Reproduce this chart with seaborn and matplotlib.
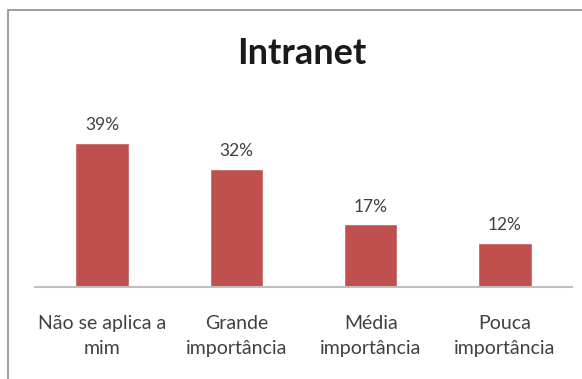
import matplotlib
matplotlib.use("Agg")
import matplotlib.pyplot as plt
import seaborn as sns
import pandas as pd
from matplotlib.patches import Rectangle

categories = ["Não se aplica a\nmim", "Grande\nimportância", "Média\nimportância", "Pouca\nimportância"]
values = [39, 32, 17, 12]
value_labels = ["39%", "32%", "17%", "12%"]

sns.set_theme(style="white")
plt.rcParams["font.family"] = ["Lato", "DejaVu Sans"]

df = pd.DataFrame({"categoria": categories, "valor": values})

fig = plt.figure(figsize=(5.82, 3.79), dpi=100)
ax = fig.add_axes([35 / 582, 92 / 379, 537 / 582, 166 / 379])

sns.barplot(data=df, x="categoria", y="valor", color="#C0504D", saturation=1,
            width=0.4, ax=ax)
ax.set_xlim(-0.5, 3.5)
ax.set_ylim(0, 45)

for patch, lab in zip(ax.patches, value_labels):
    ax.annotate(lab, (patch.get_x() + patch.get_width() / 2, patch.get_height()),
                xytext=(0, 7), textcoords="offset points", ha="center", va="bottom",
                fontsize=12.5, color="#404040")

ax.set_xlabel("")
ax.set_ylabel("")
ax.set_yticks([])
for s in ["top", "right", "left"]:
    ax.spines[s].set_visible(False)
ax.spines["bottom"].set_color("#BFBFBF")
ax.spines["bottom"].set_linewidth(1.5)
ax.tick_params(axis="x", length=0, pad=20, labelsize=14, labelcolor="#404040")
for t in ax.get_xticklabels():
    t.set_linespacing(1.6)

fig.text(302 / 582, 1 - 53 / 379, "Intranet", ha="center", va="center",
         fontsize=26, fontweight="bold", color="#1a1a1a")

fig.patches.append(Rectangle((8 / 582, -0.05), 1.2, 1 - 10 / 379 + 0.05,
                             transform=fig.transFigure, fill=False,
                             edgecolor="#8C8C8C", linewidth=1.2))

fig.savefig("out.png", dpi=100)
